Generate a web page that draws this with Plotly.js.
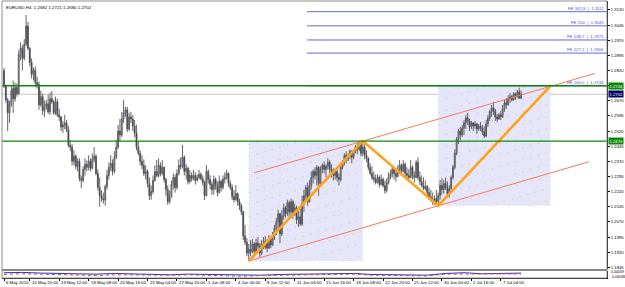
<!DOCTYPE html>
<html><head><meta charset="utf-8">
<script src="https://cdn.plot.ly/plotly-3.0.1.min.js"></script>
<style>html,body{margin:0;padding:0;background:#fff;}#c{width:625px;height:287px;}</style>
</head><body><div id="c"></div>
<script>
// ---- EURUSD H4 candles (bar index 0 = 6 May 2010 12:00) ----
const open = [1.2820,1.2745,1.2674,1.2610,1.2650,1.2730,1.2680,1.2735,1.2705,1.2900,1.2930,1.2880,1.2950,1.3040,1.2930,1.2860,1.2800,1.2820,1.2760,1.2750,
1.2650,1.2690,1.2620,1.2640,1.2655,1.2615,1.2680,1.2665,1.2610,1.2665,1.2600,1.2590,1.2540,1.2550,1.2560,1.2525,1.2450,1.2440,1.2370,1.2395,
1.2345,1.2370,1.2285,1.2275,1.2330,1.2355,1.2340,1.2370,1.2335,1.2380,1.2395,1.2310,1.2240,1.2200,1.2185,1.2178,1.2245,1.2300,1.2340,1.2360,
1.2320,1.2390,1.2440,1.2520,1.2500,1.2580,1.2610,1.2625,1.2530,1.2590,1.2580,1.2545,1.2510,1.2440,1.2410,1.2370,1.2350,1.2310,1.2320,1.2260,
1.2200,1.2220,1.2275,1.2320,1.2300,1.2350,1.2310,1.2340,1.2280,1.2230,1.2170,1.2195,1.2255,1.2290,1.2240,1.2310,1.2350,1.2345,1.2390,1.2320,
1.2335,1.2270,1.2300,1.2285,1.2300,1.2275,1.2290,1.2305,1.2285,1.2265,1.2200,1.2320,1.2280,1.2255,1.2230,1.2280,1.2250,1.2215,1.2270,1.2240,
1.2280,1.2290,1.2310,1.2260,1.2240,1.2195,1.2180,1.2210,1.2170,1.2150,1.2120,1.2000,1.1970,1.1915,1.1935,1.1920,1.1960,1.1925,1.1965,1.1950,
1.1915,1.1960,1.1945,1.1975,1.1940,1.1985,1.1955,1.2000,1.2040,1.2070,1.2110,1.2010,1.2100,1.2140,1.2110,1.2165,1.2120,1.2170,1.2110,1.2140,
1.2080,1.2095,1.2060,1.2160,1.2200,1.2240,1.2170,1.2250,1.2290,1.2320,1.2300,1.2340,1.2260,1.2330,1.2350,1.2330,1.2345,1.2365,1.2330,1.2320,
1.2300,1.2320,1.2290,1.2280,1.2340,1.2370,1.2400,1.2380,1.2395,1.2420,1.2390,1.2420,1.2440,1.2430,1.2455,1.2410,1.2440,1.2400,1.2385,1.2340,
1.2310,1.2290,1.2280,1.2265,1.2290,1.2255,1.2280,1.2250,1.2225,1.2265,1.2290,1.2305,1.2330,1.2310,1.2295,1.2330,1.2350,1.2320,1.2355,1.2310,
1.2300,1.2290,1.2340,1.2300,1.2290,1.2365,1.2290,1.2270,1.2250,1.2235,1.2245,1.2215,1.2195,1.2180,1.2170,1.2185,1.2170,1.2200,1.2250,1.2230,
1.2260,1.2240,1.2210,1.2235,1.2290,1.2340,1.2410,1.2480,1.2520,1.2500,1.2535,1.2560,1.2585,1.2570,1.2540,1.2560,1.2545,1.2555,1.2530,1.2545,
1.2535,1.2515,1.2495,1.2555,1.2585,1.2615,1.2635,1.2620,1.2590,1.2580,1.2600,1.2590,1.2630,1.2660,1.2650,1.2680,1.2690,1.2675,1.2705,1.2690,
1.2715,1.2682];
const high = [1.2832,1.2750,1.2684,1.2670,1.2740,1.2770,1.2760,1.2755,1.2920,1.2960,1.2945,1.2975,1.3095,1.3060,1.2935,1.2880,1.2835,1.2840,1.2790,1.2765,
1.2720,1.2705,1.2670,1.2675,1.2700,1.2710,1.2720,1.2675,1.2690,1.2680,1.2630,1.2595,1.2570,1.2600,1.2575,1.2545,1.2475,1.2455,1.2425,1.2405,
1.2385,1.2385,1.2300,1.2345,1.2385,1.2375,1.2400,1.2385,1.2410,1.2440,1.2405,1.2330,1.2290,1.2225,1.2215,1.2255,1.2327,1.2365,1.2400,1.2380,
1.2420,1.2475,1.2550,1.2580,1.2615,1.2674,1.2640,1.2640,1.2610,1.2615,1.2600,1.2575,1.2550,1.2470,1.2425,1.2400,1.2380,1.2350,1.2330,1.2290,
1.2250,1.2300,1.2350,1.2376,1.2385,1.2365,1.2376,1.2345,1.2290,1.2250,1.2225,1.2275,1.2310,1.2305,1.2330,1.2380,1.2390,1.2451,1.2400,1.2355,
1.2345,1.2327,1.2315,1.2327,1.2315,1.2305,1.2327,1.2315,1.2300,1.2275,1.2352,1.2330,1.2300,1.2270,1.2300,1.2290,1.2270,1.2300,1.2280,1.2300,
1.2315,1.2327,1.2315,1.2275,1.2255,1.2228,1.2253,1.2215,1.2185,1.2160,1.2125,1.2055,1.1990,1.1960,1.1980,1.1985,1.1970,1.1985,1.1995,1.1965,
1.1980,1.1995,1.2000,1.1985,1.2005,1.1995,1.2020,1.2055,1.2090,1.2130,1.2115,1.2129,1.2160,1.2150,1.2180,1.2175,1.2185,1.2180,1.2160,1.2150,
1.2125,1.2135,1.2200,1.2228,1.2253,1.2265,1.2277,1.2320,1.2330,1.2340,1.2352,1.2345,1.2345,1.2360,1.2370,1.2355,1.2385,1.2375,1.2355,1.2335,
1.2327,1.2340,1.2310,1.2352,1.2376,1.2410,1.2420,1.2410,1.2430,1.2425,1.2430,1.2450,1.2460,1.2466,1.2468,1.2470,1.2455,1.2425,1.2390,1.2360,
1.2345,1.2320,1.2305,1.2305,1.2300,1.2305,1.2290,1.2275,1.2285,1.2315,1.2327,1.2352,1.2340,1.2327,1.2352,1.2376,1.2360,1.2376,1.2365,1.2340,
1.2330,1.2376,1.2350,1.2320,1.2376,1.2390,1.2320,1.2300,1.2290,1.2275,1.2253,1.2240,1.2228,1.2215,1.2200,1.2228,1.2215,1.2277,1.2285,1.2277,
1.2290,1.2270,1.2253,1.2300,1.2352,1.2430,1.2490,1.2530,1.2540,1.2550,1.2575,1.2599,1.2610,1.2580,1.2570,1.2565,1.2570,1.2560,1.2555,1.2565,
1.2550,1.2545,1.2575,1.2599,1.2624,1.2649,1.2664,1.2630,1.2605,1.2610,1.2620,1.2649,1.2674,1.2684,1.2698,1.2708,1.2700,1.2713,1.2710,1.2723,
1.2735,1.2721];
const low = [1.2733,1.2660,1.2520,1.2560,1.2640,1.2610,1.2665,1.2690,1.2700,1.2870,1.2820,1.2870,1.2940,1.2920,1.2840,1.2780,1.2770,1.2740,1.2730,1.2625,
1.2640,1.2600,1.2590,1.2625,1.2605,1.2600,1.2655,1.2600,1.2600,1.2590,1.2570,1.2520,1.2510,1.2530,1.2515,1.2440,1.2420,1.2350,1.2350,1.2330,
1.2320,1.2270,1.2238,1.2265,1.2300,1.2320,1.2325,1.2320,1.2330,1.2365,1.2300,1.2225,1.2145,1.2170,1.2160,1.2150,1.2230,1.2280,1.2320,1.2300,
1.2310,1.2380,1.2430,1.2470,1.2490,1.2560,1.2590,1.2515,1.2520,1.2560,1.2520,1.2490,1.2425,1.2400,1.2350,1.2330,1.2297,1.2280,1.2240,1.2178,
1.2180,1.2210,1.2270,1.2290,1.2290,1.2295,1.2300,1.2265,1.2200,1.2154,1.2160,1.2190,1.2230,1.2215,1.2230,1.2300,1.2330,1.2335,1.2300,1.2280,
1.2255,1.2260,1.2270,1.2275,1.2255,1.2270,1.2280,1.2275,1.2250,1.2178,1.2195,1.2260,1.2230,1.2203,1.2205,1.2230,1.2195,1.2210,1.2220,1.2230,
1.2260,1.2280,1.2245,1.2228,1.2178,1.2165,1.2175,1.2150,1.2129,1.2104,1.1980,1.1955,1.1900,1.1876,1.1900,1.1915,1.1895,1.1910,1.1935,1.1895,
1.1905,1.1935,1.1935,1.1920,1.1935,1.1940,1.1950,1.1980,1.2005,1.2030,1.1965,1.2000,1.2080,1.2090,1.2100,1.2090,1.2100,1.2085,1.2100,1.2060,
1.2045,1.2050,1.2050,1.2120,1.2180,1.2150,1.2165,1.2230,1.2260,1.2280,1.2250,1.2200,1.2255,1.2310,1.2310,1.2290,1.2330,1.2310,1.2290,1.2275,
1.2280,1.2270,1.2250,1.2270,1.2330,1.2350,1.2360,1.2370,1.2380,1.2360,1.2380,1.2410,1.2405,1.2420,1.2395,1.2395,1.2380,1.2365,1.2325,1.2300,
1.2277,1.2265,1.2255,1.2260,1.2240,1.2250,1.2240,1.2210,1.2215,1.2255,1.2280,1.2290,1.2280,1.2270,1.2290,1.2310,1.2300,1.2315,1.2290,1.2280,
1.2270,1.2285,1.2280,1.2265,1.2285,1.2277,1.2253,1.2240,1.2228,1.2225,1.2203,1.2178,1.2170,1.2154,1.2152,1.2155,1.2150,1.2180,1.2205,1.2210,
1.2228,1.2190,1.2190,1.2225,1.2280,1.2330,1.2400,1.2455,1.2475,1.2490,1.2500,1.2530,1.2550,1.2520,1.2530,1.2520,1.2530,1.2505,1.2520,1.2520,
1.2500,1.2485,1.2490,1.2540,1.2570,1.2590,1.2600,1.2570,1.2565,1.2575,1.2575,1.2585,1.2615,1.2630,1.2645,1.2660,1.2665,1.2670,1.2675,1.2685,
1.2680,1.2680];
const close = [1.2745,1.2674,1.2610,1.2650,1.2720,1.2680,1.2735,1.2705,1.2900,1.2930,1.2880,1.2950,1.3040,1.2930,1.2860,1.2800,1.2820,1.2760,1.2750,1.2650,
1.2690,1.2620,1.2640,1.2655,1.2615,1.2680,1.2665,1.2610,1.2665,1.2600,1.2590,1.2540,1.2550,1.2560,1.2525,1.2450,1.2440,1.2370,1.2395,1.2345,
1.2370,1.2285,1.2275,1.2330,1.2355,1.2340,1.2370,1.2335,1.2380,1.2395,1.2310,1.2240,1.2200,1.2185,1.2178,1.2245,1.2300,1.2340,1.2360,1.2320,
1.2390,1.2440,1.2520,1.2500,1.2580,1.2610,1.2625,1.2530,1.2590,1.2580,1.2545,1.2510,1.2440,1.2410,1.2370,1.2350,1.2310,1.2320,1.2260,1.2200,
1.2220,1.2275,1.2320,1.2300,1.2350,1.2310,1.2340,1.2280,1.2230,1.2170,1.2195,1.2255,1.2290,1.2240,1.2310,1.2350,1.2345,1.2390,1.2320,1.2335,
1.2270,1.2300,1.2285,1.2300,1.2275,1.2290,1.2305,1.2285,1.2265,1.2200,1.2320,1.2280,1.2255,1.2230,1.2280,1.2250,1.2215,1.2270,1.2240,1.2280,
1.2290,1.2310,1.2260,1.2240,1.2195,1.2180,1.2210,1.2170,1.2150,1.2120,1.2000,1.1970,1.1915,1.1935,1.1920,1.1960,1.1925,1.1965,1.1950,1.1915,
1.1960,1.1945,1.1975,1.1940,1.1985,1.1955,1.2000,1.2040,1.2070,1.2110,1.2010,1.2100,1.2140,1.2110,1.2165,1.2120,1.2170,1.2110,1.2140,1.2080,
1.2095,1.2060,1.2160,1.2200,1.2240,1.2170,1.2250,1.2290,1.2320,1.2300,1.2340,1.2260,1.2330,1.2350,1.2330,1.2345,1.2365,1.2330,1.2320,1.2300,
1.2320,1.2290,1.2280,1.2340,1.2370,1.2400,1.2380,1.2395,1.2420,1.2390,1.2420,1.2440,1.2430,1.2455,1.2410,1.2440,1.2400,1.2385,1.2340,1.2310,
1.2290,1.2280,1.2265,1.2290,1.2255,1.2280,1.2250,1.2225,1.2265,1.2290,1.2305,1.2330,1.2310,1.2295,1.2330,1.2350,1.2320,1.2355,1.2310,1.2300,
1.2290,1.2340,1.2300,1.2290,1.2365,1.2290,1.2270,1.2250,1.2235,1.2245,1.2215,1.2195,1.2180,1.2170,1.2185,1.2170,1.2200,1.2250,1.2230,1.2260,
1.2240,1.2210,1.2235,1.2290,1.2340,1.2410,1.2480,1.2520,1.2500,1.2535,1.2560,1.2585,1.2570,1.2540,1.2560,1.2545,1.2555,1.2530,1.2545,1.2535,
1.2515,1.2495,1.2555,1.2585,1.2615,1.2635,1.2620,1.2590,1.2580,1.2600,1.2590,1.2630,1.2660,1.2650,1.2680,1.2690,1.2675,1.2705,1.2690,1.2715,
1.2682,1.2702];

// ---- axis labels ----
const xTickIdx = [0,14,30,46,62,78,94,110,126,142,158,174,190,206,222,238,254,270];
const xTickText = ['6 May 2010','10 May 20:00','13 May 12:00','18 May 08:00','20 May 16:00','25 May 04:00','27 May 20:00','1 Jun 08:00','4 Jun 00:00','8 Jun 12:00','11 Jun 04:00','15 Jun 16:00','18 Jun 08:00','22 Jun 20:00','25 Jun 12:00','30 Jun 00:00','2 Jul 16:00','7 Jul 04:00'];
const yTicks = [1.1845,1.1920,1.1995,1.2070,1.2145,1.2220,1.2295,1.2370,1.2445,1.2520,1.2595,1.2670,1.2745,1.2820,1.2895,1.2970,1.3045,1.3120];

// ---- drawn objects ----
const zigzagIdx = [133,195,236,297];
const zigzagPrice = [1.1876,1.2470,1.2150,1.2744];
const chanUpperIdx = [136,321];
const chanUpperPrice = [1.2313,1.2805];
const chanLowerIdx = [133,318];
const chanLowerPrice = [1.1876,1.2368];
const boxIdx = [[133,195],[236,297]];
const boxPrice = [[1.1876,1.2470],[1.2150,1.2744]];
const feStartIdx = 164.7;
const feRatio = ['100.0','127.2','138.2','150','161.8'];
const fePrice = [1.2744,1.2906,1.2971,1.3041,1.3111];
const greenLevels = [1.2744,1.2470];
const bidPrice = 1.2702;
const titleText = 'EURUSD,H4  1.2682 1.2721 1.2680 1.2702';

// ---- sub-window oscillator (rough) ----
const oscIdx = [0,10,20,30,40,50,60,70,80,90,100,110,120,130,140,150,160,170,180,190,200,210,220,230,240,250,260,270,281];
const oscBlue = [0.5,0.6,0.4,0.3,0.2,0.1,0.3,0.2,0.0,-0.1,0.1,0.0,-0.2,-0.3,-0.2,0.0,0.1,0.2,0.1,0.3,0.0,-0.1,0.0,-0.2,0.3,0.5,0.2,0.3,0.4];
const oscRed = [0.0,0.2,0.1,0.0,-0.2,-0.3,-0.1,-0.2,-0.3,-0.2,-0.1,-0.3,-0.4,-0.5,-0.3,-0.2,-0.1,0.0,-0.1,0.1,-0.2,-0.3,-0.2,-0.4,0.1,0.2,0.1,0.2,0.1];

const xr = [-1.087, 327.72];
const idx = close.map((_, i) => i);
const FONT = 'Liberation Sans, Arial, sans-serif';

const traces = [
  {type:'candlestick', x: idx, open: open, high: high, low: low, close: close,
   increasing:{line:{color:'#555555', width:0.9}, fillcolor:'#b4b4b4'},
   decreasing:{line:{color:'#555555', width:0.9}, fillcolor:'#00007a'},
   whiskerwidth:0, hoverinfo:'skip', showlegend:false, xaxis:'x', yaxis:'y'},
  {type:'scatter', mode:'lines', x: chanUpperIdx, y: chanUpperPrice, line:{color:'#f47a5e', width:1}, hoverinfo:'skip', showlegend:false},
  {type:'scatter', mode:'lines', x: chanLowerIdx, y: chanLowerPrice, line:{color:'#f47a5e', width:1}, hoverinfo:'skip', showlegend:false},
  {type:'scatter', mode:'lines', x: zigzagIdx, y: zigzagPrice, line:{color:'#ffa21a', width:2.6}, hoverinfo:'skip', showlegend:false},
  {type:'scatter', mode:'lines', x: oscIdx, y: oscBlue, line:{color:'#2030d0', width:1}, xaxis:'x', yaxis:'y2', hoverinfo:'skip', showlegend:false},
  {type:'scatter', mode:'lines', x: oscIdx, y: oscRed, line:{color:'#e04040', width:1, dash:'dot'}, xaxis:'x', yaxis:'y2', hoverinfo:'skip', showlegend:false}
];

const shapes = [];
const slope = (chanLowerPrice[1] - chanLowerPrice[0]) / (chanLowerIdx[1] - chanLowerIdx[0]);
for (let k = 0; k < boxIdx.length; k++) {
  const xa = boxIdx[k][0], xb = boxIdx[k][1], ya = boxPrice[k][0], yb = boxPrice[k][1];
  shapes.push({type:'rect', xref:'x', yref:'y', x0: xa, x1: xb, y0: ya, y1: yb,
    fillcolor:'#e6e6fa', line:{width:0}, layer:'below'});
  const step = (yb - ya) / 10;
  for (let c = ya - slope * (xb - xa) + step / 2; c < yb; c += step) {
    const i0 = Math.max(xa, xa + (ya - c) / slope);
    const i1 = Math.min(xb, xa + (yb - c) / slope);
    if (i1 - i0 < 1) continue;
    shapes.push({type:'line', xref:'x', yref:'y', x0: i0, x1: i1, y0: c + slope * (i0 - xa), y1: c + slope * (i1 - xa),
      line:{color:'rgba(245,165,80,0.75)', width:1, dash:'1px,7px'}, layer:'below'});
  }
}
for (let k = 0; k < fePrice.length; k++) {
  shapes.push({type:'line', xref:'x', yref:'y', x0: feStartIdx, x1: xr[1], y0: fePrice[k], y1: fePrice[k],
    line:{color:'#6464e0', width:1}, layer:'below'});
}
shapes.push({type:'line', xref:'paper', yref:'y', x0:0, x1:1, y0: bidPrice, y1: bidPrice, line:{color:'#c8c8c8', width:1}, layer:'below'});
greenLevels.forEach(v => shapes.push({type:'line', xref:'paper', yref:'y', x0:0, x1:1, y0:v, y1:v, line:{color:'#0a8a0a', width:1.4}}));
shapes.push({type:'rect', xref:'paper', yref:'paper', x0:0, x1:1, y0:0.0253, y1:0.0325, fillcolor:'#888888', line:{width:0}});
shapes.push({type:'rect', xref:'paper', yref:'paper', x0:0, x1:1, y0:0, y1:1, line:{color:'#909090', width:1}, fillcolor:'rgba(0,0,0,0)'});

const annotations = [
  {xref:'paper', yref:'paper', x:0.003, y:0.993, xanchor:'left', yanchor:'top', text: titleText, showarrow:false,
   font:{family:FONT, size:4.4, color:'#000'}},
];
for (let k = 0; k < fePrice.length; k++) {
  annotations.push({xref:'paper', yref:'y', x:0.998, y: fePrice[k], xanchor:'right', yanchor:'bottom', yshift:-1,
    text:'FE ' + feRatio[k] + '  |  ' + fePrice[k].toFixed(4), showarrow:false,
    font:{family:FONT, size:4.3, color:'#5050d0'}});
}
const boxes = [[greenLevels[0],'#0a8a0a'],[bidPrice,'#000060'],[greenLevels[1],'#0a8a0a']];
boxes.forEach(b => annotations.push({xref:'paper', yref:'y', x:1.0, y:b[0], xanchor:'left', yanchor:'middle', xshift:1,
  text: b[0].toFixed(4), showarrow:false, bgcolor:b[1], borderpad:0.5,
  font:{family:FONT, size:4.2, color:'#ffffff'}}));
annotations.push({xref:'paper', yref:'paper', x:1.0, y:0.021, xanchor:'left', yanchor:'middle', xshift:2, text:'0.00059', showarrow:false, font:{family:FONT, size:3.6, color:'#000'}});
annotations.push({xref:'paper', yref:'paper', x:1.0, y:0.003, xanchor:'left', yanchor:'middle', xshift:2, text:'-0.00036', showarrow:false, font:{family:FONT, size:3.6, color:'#000'}});
for (let k = 0; k < xTickIdx.length; k++) {
  annotations.push({xref:'x', yref:'paper', x: xTickIdx[k], y: -0.018, xanchor:'left', yanchor:'middle', xshift:0,
    text: xTickText[k], showarrow:false, font:{family:FONT, size:4.3, color:'#000'}});
}

const layout = {
  width:625, height:287,
  margin:{l:2, r:18, t:1, b:9, pad:0},
  paper_bgcolor:'#ffffff', plot_bgcolor:'#ffffff',
  showlegend:false,
  xaxis:{range:xr, anchor:'y2', showgrid:false, zeroline:false, rangeslider:{visible:false},
    tickmode:'array', tickvals:xTickIdx, ticks:'outside', ticklen:2, tickcolor:'#000', showticklabels:false,
    showline:true, linecolor:'#000', linewidth:1},
  yaxis:{domain:[0.0325,1], range:[1.18366,1.31640], side:'right', showgrid:false, zeroline:false,
    tickmode:'array', tickvals:yTicks, ticktext:yTicks.map(v=>v.toFixed(4)), ticks:'outside', ticklen:2, tickcolor:'#000',
    tickfont:{family:FONT, size:4.2, color:'#000'}, showline:true, linecolor:'#000', linewidth:1},
  yaxis2:{domain:[0,0.0253], range:[-1,1], side:'right', showgrid:false, zeroline:false, showticklabels:false,
    showline:true, linecolor:'#000', linewidth:1},
  shapes: shapes,
  annotations: annotations
};

Plotly.newPlot('c', traces, layout, {staticPlot:true, displayModeBar:false});
</script>
</body></html>
